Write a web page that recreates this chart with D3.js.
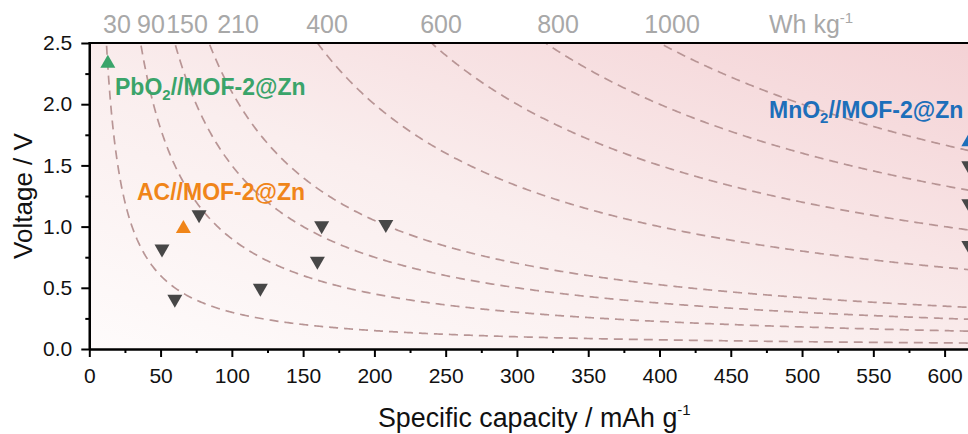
<!DOCTYPE html>
<html>
<head>
<meta charset="utf-8">
<script src="https://cdn.jsdelivr.net/npm/d3@7"></script>
<style>
  html, body { margin: 0; padding: 0; background: #ffffff; }
  svg { display: block; font-family: "Liberation Sans", Arial, sans-serif; }
</style>
</head>
<body>
<svg id="chart" width="968" height="434"></svg>
<script>
// Iso-energy reference lines (Wh kg-1) and their top labels
const isoEnergies = [30, 90, 150, 210, 400, 600, 800, 1000];
const isoLabels = ["30", "90", "150", "210", "400", "600", "800", "1000"];
const isoUnit = "Wh kg";

// Capacity ticks and voltage ticks
const xTickValues = [0, 50, 100, 150, 200, 250, 300, 350, 400, 450, 500, 550, 600];
const xMinorValues = [25, 75, 125, 175, 225, 275, 325, 375, 425, 475, 525, 575, 625];
const yTickValues = [0, 0.5, 1.0, 1.5, 2.0, 2.5];
const yMinorValues = [0.25, 0.75, 1.25, 1.75, 2.25];

// This work: three devices (capacity mAh g-1, voltage V)
const pbo2Capacity = [13];
const pbo2Voltage = [2.35];
const acCapacity = [66];
const acVoltage = [1.0];
const mno2Capacity = [617];
const mno2Voltage = [1.71];

// Reported devices
const refCapacity = [77, 51, 60, 120, 160, 163, 208, 617, 617, 617];
const refVoltage = [1.08, 0.80, 0.39, 0.48, 0.70, 0.99, 1.00, 1.48, 1.17, 0.83];

// ---- layout ----
const W = 968, H = 434;
const plotLeft = 89.3, plotBottom = 349, plotTop = 43;
const pxPerUnit = 1.4255;

const svg = d3.select("#chart");
const x = d3.scaleLinear().domain([0, 650]).range([plotLeft, plotLeft + 650 * pxPerUnit]);
const y = d3.scaleLinear().domain([0, 2.5]).range([plotBottom, plotTop]);

const defs = svg.append("defs");
const grad = defs.append("linearGradient")
  .attr("id", "bg").attr("x1", 0).attr("y1", 1).attr("x2", 1).attr("y2", 0);
grad.append("stop").attr("offset", 0).attr("stop-color", "#fefbfb");
grad.append("stop").attr("offset", 0.45).attr("stop-color", "#faeeee");
grad.append("stop").attr("offset", 1).attr("stop-color", "#f4d2d5");

defs.append("clipPath").attr("id", "plotClip")
  .append("rect").attr("x", plotLeft).attr("y", plotTop)
  .attr("width", W - plotLeft).attr("height", plotBottom - plotTop);

// plot background
svg.append("rect")
  .attr("x", plotLeft).attr("y", plotTop)
  .attr("width", W - plotLeft).attr("height", plotBottom - plotTop)
  .attr("fill", "url(#bg)");

// iso-energy curves V = E / C
const plot = svg.append("g").attr("clip-path", "url(#plotClip)");
const line = d3.line().x(d => x(d[0])).y(d => y(d[1]));
isoEnergies.forEach(E => {
  const c0 = E / 2.6;
  const pts = d3.range(c0, 660, 1).map(c => [c, E / c]);
  plot.append("path")
    .attr("d", line(pts))
    .attr("fill", "none")
    .attr("stroke", "#b89595")
    .attr("stroke-width", 1.7)
    .attr("stroke-dasharray", "9,6");
});

// top energy labels
const isoLabelCx = [117, 151, 187, 238, 327, 441, 558, 672];
const topG = svg.append("g")
  .attr("font-size", 25).attr("fill", "#a8a8a8");
isoLabels.forEach((t, i) => {
  topG.append("text")
    .attr("x", isoLabelCx[i]).attr("y", 33)
    .attr("text-anchor", "middle").text(t);
});
const unit = topG.append("text").attr("x", 769).attr("y", 33);
unit.append("tspan").text(isoUnit);
unit.append("tspan").attr("font-size", 15).attr("dy", -10).text("-1");

// axes
const xAxis = svg.append("g").attr("transform", `translate(0,${plotBottom})`)
  .call(d3.axisBottom(x).tickValues(xTickValues).tickSize(8).tickSizeOuter(0).tickPadding(11));
const xMinor = svg.append("g").attr("transform", `translate(0,${plotBottom})`)
  .call(d3.axisBottom(x).tickValues(xMinorValues).tickSize(4).tickFormat("").tickSizeOuter(0));
const yAxis = svg.append("g").attr("transform", `translate(${plotLeft},0)`)
  .call(d3.axisLeft(y).tickValues(yTickValues).tickSize(8).tickSizeOuter(0).tickPadding(9)
    .tickFormat(d3.format(".1f")));
const yMinor = svg.append("g").attr("transform", `translate(${plotLeft},0)`)
  .call(d3.axisLeft(y).tickValues(yMinorValues).tickSize(4).tickFormat("").tickSizeOuter(0));

[xAxis, xMinor, yAxis, yMinor].forEach(g => {
  g.select(".domain").attr("stroke", "#000").attr("stroke-width", 2.2);
  g.selectAll(".tick line").attr("stroke", "#000").attr("stroke-width", 2);
  g.selectAll(".tick text").attr("font-size", 21).attr("fill", "#111")
    .attr("font-family", "Liberation Sans, Arial, sans-serif");
});

// top frame line
svg.append("line")
  .attr("x1", plotLeft - 1).attr("x2", W).attr("y1", plotTop).attr("y2", plotTop)
  .attr("stroke", "#000").attr("stroke-width", 2.2);

// axis titles
const xt = svg.append("text").attr("x", 378).attr("y", 427)
  .attr("font-size", 26.8).attr("fill", "#111");
xt.append("tspan").text("Specific capacity / mAh g");
xt.append("tspan").attr("font-size", 15).attr("dy", -12).text("-1");

svg.append("text")
  .attr("transform", `translate(32,${(plotTop + plotBottom) / 2}) rotate(-90)`)
  .attr("text-anchor", "middle")
  .attr("font-size", 26).attr("fill", "#111")
  .text("Voltage / V");

// triangle markers centred on their bounding box
function tri(cx, cy, up) {
  const w = 15, h = 13;
  return up
    ? `M${cx - w / 2},${cy + h / 2}L${cx + w / 2},${cy + h / 2}L${cx},${cy - h / 2}Z`
    : `M${cx - w / 2},${cy - h / 2}L${cx + w / 2},${cy - h / 2}L${cx},${cy + h / 2}Z`;
}
function markers(caps, volts, up, color) {
  svg.selectAll(null).data(d3.zip(caps, volts)).enter().append("path")
    .attr("d", d => tri(x(d[0]), y(d[1]), up))
    .attr("fill", color);
}
markers(refCapacity, refVoltage, false, "#474747");
markers(pbo2Capacity, pbo2Voltage, true, "#3aa46a");
markers(acCapacity, acVoltage, true, "#f08519");
markers(mno2Capacity, mno2Voltage, true, "#1d6fba");

// device labels
function label(xp, yp, color, parts) {
  const t = svg.append("text").attr("x", xp).attr("y", yp)
    .attr("font-size", 23).attr("font-weight", "bold").attr("fill", color);
  parts.forEach(p => {
    if (p.sub) {
      t.append("tspan").attr("font-size", 15).attr("dy", 5).text(p.text);
    } else {
      t.append("tspan").attr("dy", p.after ? -5 : 0).text(p.text);
    }
  });
}
label(115, 95, "#3aa46a", [{text: "PbO"}, {text: "2", sub: true}, {text: "//MOF-2@Zn", after: true}]);
label(137, 200, "#f08519", [{text: "AC//MOF-2@Zn"}]);
label(769, 118, "#1d6fba", [{text: "MnO"}, {text: "2", sub: true}, {text: "//MOF-2@Zn", after: true}]);
</script>
</body>
</html>
